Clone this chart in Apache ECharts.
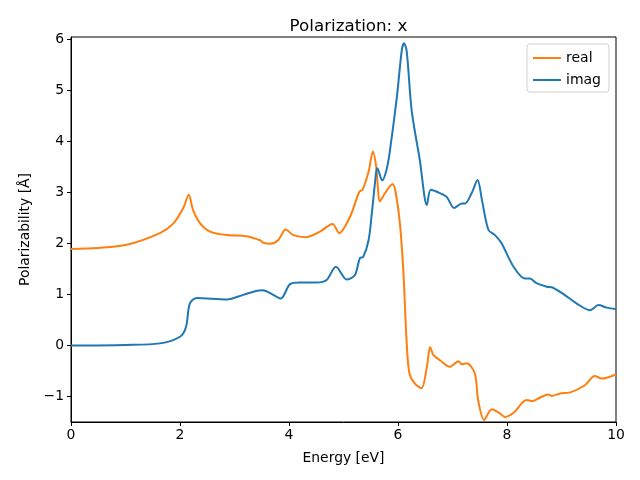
<!DOCTYPE html>
<html><head><meta charset="utf-8">
<script src="https://cdn.jsdelivr.net/npm/echarts@6/dist/echarts.min.js"></script>
<style>html,body{margin:0;padding:0;background:#fff}#c{width:640px;height:480px}</style>
</head><body><div id="c"></div>
<script>
const realE = [0,0.5,1.02,1.63,1.88,2.06,2.16,2.24,2.37,2.55,2.86,3.22,3.47,3.53,3.65,3.80,3.94,4.08,4.32,4.57,4.80,4.92,5.12,5.29,5.35,5.46,5.54,5.60,5.67,5.76,5.90,5.96,6.04,6.10,6.16,6.21,6.31,6.43,6.53,6.59,6.65,6.77,6.95,7.11,7.17,7.26,7.41,7.47,7.58,7.72,7.87,7.96,8.12,8.36,8.47,8.61,8.76,8.82,8.97,9.16,9.43,9.61,9.74,10];
const realV = [1.89,1.91,1.97,2.20,2.39,2.69,2.95,2.65,2.39,2.23,2.16,2.14,2.06,2.01,1.99,2.06,2.27,2.16,2.12,2.23,2.38,2.20,2.52,3.01,3.05,3.40,3.80,3.50,2.82,2.98,3.16,2.98,2.33,1.41,0.04,-0.55,-0.75,-0.84,-0.42,-0.03,-0.19,-0.29,-0.42,-0.31,-0.37,-0.35,-0.55,-1.07,-1.46,-1.25,-1.33,-1.40,-1.32,-1.07,-1.09,-1.02,-0.96,-0.99,-0.94,-0.92,-0.78,-0.60,-0.65,-0.57];
const imagE = [0,1.0,1.63,2.0,2.11,2.18,2.31,2.86,3.16,3.41,3.52,3.71,3.85,4.02,4.20,4.51,4.69,4.86,5.06,5.21,5.30,5.36,5.46,5.52,5.60,5.62,5.71,5.79,5.85,5.98,6.07,6.11,6.16,6.25,6.40,6.53,6.60,6.71,6.89,7.03,7.17,7.23,7.35,7.46,7.54,7.66,7.78,7.90,8.12,8.33,8.42,8.54,8.73,8.82,9.03,9.28,9.52,9.68,9.83,10];
const imagV = [0,0.01,0.04,0.17,0.36,0.82,0.93,0.90,0.99,1.07,1.08,0.99,0.92,1.20,1.23,1.23,1.28,1.54,1.29,1.38,1.71,1.73,2.06,2.59,3.40,3.47,3.23,3.44,3.80,4.87,5.79,5.92,5.76,4.61,3.63,2.75,3.05,3.01,2.91,2.69,2.78,2.78,2.98,3.24,2.85,2.26,2.16,2.00,1.54,1.31,1.31,1.22,1.15,1.14,1.01,0.82,0.69,0.79,0.74,0.71];
const xTicks = [0,2,4,6,8,10];
const yTicks = [-1,0,1,2,3,4,5,6];

const font = 'DejaVu Sans';
const fmt = v => String(v).replace('-', '\u2212');
const chart = echarts.init(document.getElementById('c'), null, {renderer:'canvas'});
chart.setOption({
  animation:false,
  backgroundColor:'#fff',
  title:{text:'Polarization: x', left:343.5, textAlign:'center', top:13,
    textStyle:{fontFamily:font, fontSize:16.7, fontWeight:'normal', color:'#000'}},
  legend:{right:31, top:44, orient:'vertical', itemWidth:28, itemHeight:10, itemGap:8,
    backgroundColor:'#fff', borderColor:'#d0d0d0', borderWidth:1, borderRadius:3,
    padding:[7,8,5,6],
    textStyle:{fontFamily:font, fontSize:14, color:'#000'},
    data:[{name:'real', icon:'path://M0,4 L28,4 L28,6 L0,6 Z'},{name:'imag', icon:'path://M0,4 L28,4 L28,6 L0,6 Z'}]},
  grid:{left:71, right:24, top:37, bottom:58, show:true, borderColor:'#000', borderWidth:1, backgroundColor:'transparent'},
  xAxis:{type:'value', min:0, max:10, interval:2,
    name:'Energy [eV]', nameLocation:'middle', nameGap:29,
    nameTextStyle:{fontFamily:font, fontSize:13.9, color:'#000'},
    axisLine:{show:true, onZero:false, lineStyle:{color:'#000', width:1}},
    axisTick:{show:true, length:4, lineStyle:{color:'#000'}, customValues:xTicks},
    axisLabel:{fontFamily:font, fontSize:13.9, color:'#000', margin:6, customValues:xTicks, formatter:fmt},
    splitLine:{show:false}},
  yAxis:{type:'value', min:-1.5, max:6.04,
    name:'Polarizability [Å]', nameLocation:'middle', nameGap:39, nameRotate:90,
    nameTextStyle:{fontFamily:font, fontSize:13.9, color:'#000'},
    axisLine:{show:true, onZero:false, lineStyle:{color:'#000', width:1}},
    axisTick:{show:true, length:4, lineStyle:{color:'#000'}, customValues:yTicks},
    axisLabel:{fontFamily:font, fontSize:13.9, color:'#000', margin:7, customValues:yTicks, formatter:fmt},
    splitLine:{show:false}},
  series:[
    {name:'real', type:'line', showSymbol:false, smooth:0.3, color:'#ff7f0e',
      lineStyle:{width:2, color:'#ff7f0e'}, data:realE.map((e,i)=>[e,realV[i]])},
    {name:'imag', type:'line', showSymbol:false, smooth:0.3, color:'#1f77b4',
      lineStyle:{width:2, color:'#1f77b4'}, data:imagE.map((e,i)=>[e,imagV[i]])}
  ]
});
</script></body></html>
